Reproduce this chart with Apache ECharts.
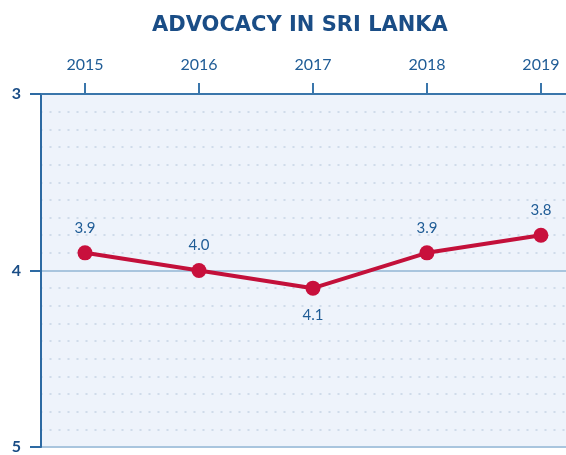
<!DOCTYPE html>
<html>
<head>
<meta charset="utf-8">
<script src="https://cdn.jsdelivr.net/npm/echarts@6/dist/echarts.min.js"></script>
<style>
  html, body { margin: 0; padding: 0; background: #fff; }
  #chart { width: 566px; height: 455px; }
</style>
</head>
<body>
<div id="chart"></div>
<script>
var years = [2015, 2016, 2017, 2018, 2019];
var scores = [3.9, 4.0, 4.1, 3.9, 3.8];
var labelBelow = [false, false, true, false, false];
var yTicks = [3, 4, 5];

var blue = "#1f5c96";
var chart = echarts.init(document.getElementById("chart"));

chart.setOption({
    animation: false,
    title: {
        text: "ADVOCACY IN SRI LANKA",
        left: 147,
        top: 10,
        textStyle: {
            fontFamily: "DejaVu Sans",
            fontWeight: "bold",
            fontSize: 21,
            color: "#1a4d86"
        }
    },
    grid: {
        left: 41,
        right: 0,
        top: 94,
        bottom: 7,
        show: true,
        backgroundColor: "#eef3fb",
        borderWidth: 0
    },
    xAxis: {
        type: "value",
        position: "top",
        min: 2014.614,
        max: 2019.22,
        axisLine: { show: true, lineStyle: { color: "#3a76ab", width: 2 } },
        axisTick: {
            show: true,
            customValues: years,
            length: 11,
            lineStyle: { color: "#3a76ab", width: 2 }
        },
        axisLabel: {
            customValues: years,
            margin: 21,
            fontFamily: "Lato",
            fontSize: 16,
            color: blue,
            formatter: function (v) { return String(v); }
        },
        splitLine: { show: false }
    },
    yAxis: {
        type: "value",
        inverse: true,
        min: 3,
        max: 5,
        interval: 1,
        axisLine: { show: true, lineStyle: { color: "#2d6aa3", width: 2 } },
        axisTick: {
            show: true,
            length: 11,
            lineStyle: { color: "#2d6aa3", width: 2 }
        },
        axisLabel: {
            margin: 20,
            fontFamily: "Lato",
            fontWeight: "bold",
            fontSize: 16,
            color: "#1a4d86",
            formatter: function (v) { return yTicks.indexOf(v) >= 0 ? String(v) : ""; }
        },
        splitLine: { show: true, lineStyle: { color: "#a9c5de", width: 2 } },
        minorTick: { show: false, splitNumber: 10 },
        minorSplitLine: {
            show: true,
            lineStyle: { color: "#c6d4e5", width: 1.5, type: [1, 8], cap: "round" }
        }
    },
    series: [{
        type: "line",
        data: years.map(function (y, i) {
            return {
                value: [y, scores[i]],
                label: {
                    position: labelBelow[i] ? "bottom" : "top",
                    distance: labelBelow[i] ? 12 : 10
                }
            };
        }),
        lineStyle: { color: "#c3103a", width: 4 },
        itemStyle: { color: "#c8103c" },
        symbol: "circle",
        symbolSize: 15,
        label: {
            show: true,
            fontFamily: "Lato",
            fontSize: 15,
            color: blue,
            formatter: function (p) { return p.value[1].toFixed(1); }
        }
    }]
});
</script>
</body>
</html>
